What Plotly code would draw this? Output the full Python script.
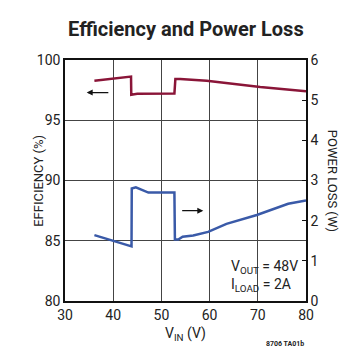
import plotly.graph_objects as go

# Efficiency (%) vs VIN
eff_vin = [36.1, 43.7, 43.75, 45.0, 52.7, 52.9, 53.9, 59.4, 70.5, 76.0, 80.0]
eff_val = [98.28, 98.62, 97.12, 97.2, 97.22, 98.42, 98.42, 98.28, 97.75, 97.52, 97.4]

# Power loss (W) vs VIN
loss_vin = [36.1, 43.8, 43.85, 44.7, 47.3, 52.7, 52.8, 53.5, 54.4, 56.6, 59.7, 63.5, 69.8, 76.3, 80.0]
loss_val = [1.64, 1.36, 2.80, 2.83, 2.70, 2.70, 1.53, 1.53, 1.60, 1.63, 1.72, 1.92, 2.14, 2.42, 2.50]

x_ticks = [30, 40, 50, 60, 70, 80]
y1_ticks = [80, 85, 90, 95, 100]
y2_ticks = [0, 1, 2, 3, 4, 5, 6]

FONT = "Roboto, Liberation Sans, sans-serif"
RED = "#8a1538"
BLUE = "#3a5aa8"
GRID = "#444444"
TXT = "#222222"

fig = go.Figure()
fig.add_trace(go.Scatter(x=eff_vin, y=eff_val, mode="lines",
                         line=dict(color=RED, width=2.5), yaxis="y", hoverinfo="skip"))
fig.add_trace(go.Scatter(x=loss_vin, y=loss_val, mode="lines",
                         line=dict(color=BLUE, width=2.5), yaxis="y2", hoverinfo="skip"))

fig.update_layout(
    width=363, height=355,
    margin=dict(l=65, r=57, t=60, b=54),
    paper_bgcolor="white", plot_bgcolor="white",
    showlegend=False,
    font=dict(family=FONT, size=13, color=TXT),
    xaxis=dict(range=[30, 80], tickvals=x_ticks, showgrid=True, gridcolor=GRID, gridwidth=1,
               showline=True, linecolor="#111111", linewidth=1.5, mirror=True,
               zeroline=False, ticks="", tickfont=dict(size=14), fixedrange=True,
               automargin=False),
    yaxis=dict(range=[80, 100], tickvals=y1_ticks, showgrid=True, gridcolor=GRID, gridwidth=1,
               showline=True, linecolor="#111111", linewidth=1.5,
               zeroline=False, ticks="", tickfont=dict(size=14), automargin=False),
    yaxis2=dict(range=[0, 6], tickvals=y2_ticks, overlaying="y", side="right",
                showgrid=False, showline=True, linecolor="#111111", linewidth=1.5,
                zeroline=False, ticks="inside", ticklen=4, tickcolor="#111111",
                tickfont=dict(size=14), automargin=False),
    annotations=[
        dict(text="<b>Efficiency and Power Loss</b>", x=0.5, y=(301 - 29) / 241,
             xref="paper", yref="paper", yanchor="middle",
             showarrow=False, font=dict(size=20, color=TXT, family=FONT)),
        dict(text="EFFICIENCY (%)", x=-0.15, y=0.5, xref="paper", yref="paper", textangle=-90,
             showarrow=False, font=dict(size=13)),
        dict(text="POWER LOSS (W)", x=1.15, y=0.5, xref="paper", yref="paper", textangle=90,
             showarrow=False, font=dict(size=13)),
        dict(text="V<sub>IN</sub> (V)", x=0.5, y=(301 - 334) / 241, xref="paper", yref="paper",
             yanchor="middle", showarrow=False, font=dict(size=14)),
        dict(text="<b>8706 TA01b</b>", x=1.0, y=(301 - 344) / 241, xref="paper", yref="paper",
             xanchor="right", yanchor="middle", showarrow=False, font=dict(size=7)),
        dict(text="V<sub>OUT</sub> = 48V<br>I<sub>LOAD</sub> = 2A", x=0.975, y=0.02,
             xref="paper", yref="paper", xanchor="right", yanchor="bottom", align="left",
             showarrow=False, font=dict(size=14)),
        dict(x=34.5, y=97.3, xref="x", yref="y", ax=39.3, ay=97.3, axref="x", ayref="y",
             showarrow=True, arrowhead=2, arrowsize=1, arrowwidth=1.2, arrowcolor="#111111", text=""),
        dict(x=58.7, y=2.25, xref="x", yref="y2", ax=54.0, ay=2.25, axref="x", ayref="y2",
             showarrow=True, arrowhead=2, arrowsize=1, arrowwidth=1.2, arrowcolor="#111111", text=""),
    ],
)

fig.write_html("out.html", config={"displayModeBar": False},
               post_script="document.body.style.margin='0';")
